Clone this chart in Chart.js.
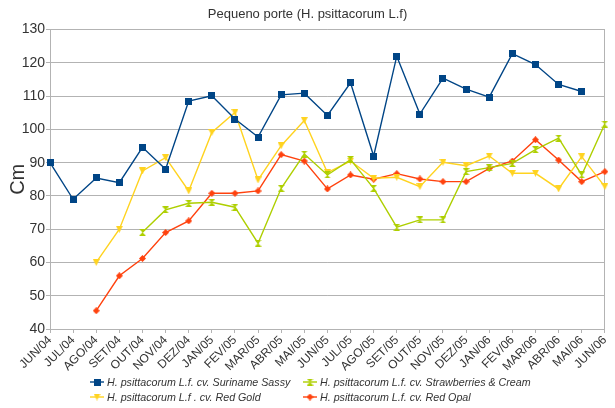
<!DOCTYPE html>
<html>
<head>
<meta charset="utf-8">
<script src="https://cdn.jsdelivr.net/npm/chart.js@4/dist/chart.umd.min.js"></script>
<style>
  html, body { margin: 0; padding: 0; background: #fff; }
  #wrap { position: relative; width: 615px; height: 408px; }
  #legend {
    position: absolute; left: 90px; top: 375px;
    display: grid; grid-template-columns: 213px auto; row-gap: 1px;
    font-family: "Liberation Sans", Arial, sans-serif; font-style: italic;
    font-size: 10.7px; color: #333;
  }
  .item { display: flex; align-items: center; height: 14px; white-space: nowrap; }
  .item canvas { margin-right: 3px; }
</style>
</head>
<body>
<div id="wrap">
  <canvas id="myChart" width="615" height="408"></canvas>
  <div id="legend"></div>
</div>
<script>
// dados
var categories = ['JUN/04','JUL/04','AGO/04','SET/04','OUT/04','NOV/04','DEZ/04','JAN/05','FEV/05','MAR/05',
  'ABR/05','MAI/05','JUN/05','JUL/05','AGO/05','SET/05','OUT/05','NOV/05','DEZ/05','JAN/06','FEV/06',
  'MAR/06','ABR/06','MAI/06','JUN/06'];

var surinameSassy = [90, 79, 85.4, 84.0, 94.6, 88.0, 108.5, 110.1, 103.1, 97.7, 110.4, 110.9, 104.2,
  114.0, 92.0, 122.0, 104.6, 115.4, 112.1, 109.7, 122.8, 119.5, 113.5, 111.4, null];

var strawberriesCream = [null, null, null, null, 69.1, 75.8, 77.8, 78.1, 76.6, 65.8, 82.3, 92.6, 86.3,
  90.9, 82.3, 70.6, 72.8, 72.8, 87.3, 88.5, 89.8, 93.9, 97.4, 86.3, 101.6];

var redGold = [null, null, 60, 70, 87.5, 91.5, 81.5, 99.1, 105.1, 84.8, 95.1, 102.7, 87.0,
  90.5, 85.3, 85.6, 82.8, 90.1, 89.1, 92.0, 86.8, 86.8, 82.1, 91.8, 82.8];

var redOpal = [null, null, 45.5, 56.0, 61.2, 69.0, 72.5, 80.8, 80.8, 81.5, 92.4, 90.5, 82.1,
  86.3, 85.0, 86.7, 85.1, 84.3, 84.3, 88.3, 90.5, 96.9, 90.8, 84.3, 87.3];

var seriesNames = ['H. psittacorum L.f. cv. Suriname Sassy', 'H. psittacorum L.f. cv. Strawberries & Cream',
  'H. psittacorum L.f . cv. Red Gold', 'H. psittacorum L.f. cv. Red Opal'];
var seriesColors = ['#004586', '#aecf00', '#ffd320', '#ff420e'];
var seriesShapes = ['square', 'hourglass', 'triangleDown', 'diamond'];

function makeMarker(shape, color, size) {
  var c = document.createElement('canvas');
  c.width = size; c.height = size;
  var g = c.getContext('2d');
  g.fillStyle = color;
  g.beginPath();
  if (shape == 'square') {
    g.rect(0, 0, size, size);
  } else if (shape == 'hourglass') {
    g.moveTo(0, 0); g.lineTo(size, 0); g.lineTo(size / 2, size / 2);
    g.lineTo(size, size); g.lineTo(0, size); g.lineTo(size / 2, size / 2);
    g.closePath();
  } else if (shape == 'triangleDown') {
    g.moveTo(0, 0); g.lineTo(size, 0); g.lineTo(size / 2, size); g.closePath();
  } else {
    g.moveTo(size / 2, 0); g.lineTo(size, size / 2); g.lineTo(size / 2, size); g.lineTo(0, size / 2);
    g.closePath();
  }
  g.fill();
  return c;
}

var seriesData = [surinameSassy, strawberriesCream, redGold, redOpal];
var markerSizes = [7, 7, 7, 7];
var datasets = [];
for (var i = 0; i < seriesData.length; i++) {
  datasets.push({
    label: seriesNames[i],
    data: seriesData[i],
    borderColor: seriesColors[i],
    backgroundColor: seriesColors[i],
    borderWidth: 1.4,
    pointStyle: makeMarker(seriesShapes[i], seriesColors[i], markerSizes[i]),
    tension: 0,
    spanGaps: false
  });
}

var gridGray = '#b3b3b3';
var textGray = '#333333';

var ctx = document.getElementById('myChart').getContext('2d');
var chart = new Chart(ctx, {
  type: 'line',
  data: { labels: categories, datasets: datasets },
  options: {
    responsive: false,
    animation: false,
    layout: { padding: { left: 0, right: 0, top: 0, bottom: 31 } },
    plugins: {
      legend: { display: false },
      tooltip: { enabled: false },
      title: {
        display: true,
        text: 'Pequeno porte (H. psittacorum L.f)',
        color: textGray,
        font: { family: 'Liberation Sans', size: 13, weight: 'normal' },
        padding: { top: 7, bottom: 7 }
      }
    },
    scales: {
      x: {
        grid: { drawOnChartArea: false, color: gridGray, tickColor: gridGray, tickLength: 4 },
        border: { color: gridGray },
        ticks: {
          color: textGray, autoSkip: false, maxRotation: 45, minRotation: 45, padding: 0,
          font: { family: 'Liberation Sans', size: 12 }
        },
        afterFit: function(scale) { scale.height = 48; }
      },
      y: {
        min: 40, max: 130,
        grid: { color: gridGray, tickColor: gridGray, tickLength: 4 },
        border: { color: gridGray },
        ticks: { stepSize: 10, color: textGray, padding: 1, font: { family: 'Liberation Sans', size: 14 } },
        title: {
          display: true, text: 'Cm', color: textGray,
          font: { family: 'Liberation Sans', size: 20 }, padding: { top: 6, bottom: 0 }
        },
        afterFit: function(scale) { scale.width = 50; }
      },
      yRight: {
        position: 'right',
        min: 40, max: 130,
        grid: { drawOnChartArea: false, drawTicks: false },
        border: { color: gridGray },
        ticks: { display: false },
        afterFit: function(scale) { scale.width = 9; }
      }
    }
  }
});

// legenda em duas colunas
var legend = document.getElementById('legend');
for (var k = 0; k < datasets.length; k++) {
  var item = document.createElement('div');
  item.className = 'item';
  var icon = document.createElement('canvas');
  icon.width = 14; icon.height = 10;
  var g = icon.getContext('2d');
  g.strokeStyle = seriesColors[k];
  g.lineWidth = 1.4;
  g.beginPath(); g.moveTo(0, 5); g.lineTo(14, 5); g.stroke();
  g.drawImage(datasets[k].pointStyle, 3.5, 1.5);
  var span = document.createElement('span');
  span.textContent = seriesNames[k];
  item.appendChild(icon);
  item.appendChild(span);
  legend.appendChild(item);
}
</script>
</body>
</html>
